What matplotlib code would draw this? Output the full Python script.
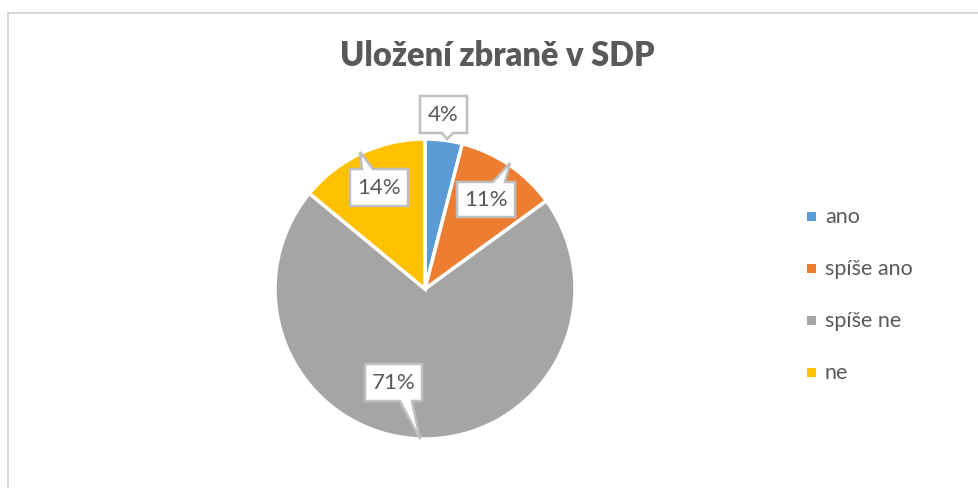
import matplotlib
matplotlib.use("Agg")
import matplotlib.pyplot as plt
from matplotlib.patches import Polygon
from matplotlib.lines import Line2D
import numpy as np

plt.rcParams['font.family'] = ['Lato', 'DejaVu Sans']

title = "Uložení zbraně v SDP"
categories = ["ano", "spíše ano", "spíše ne", "ne"]
values = [4, 11, 71, 14]
labels = ["4%", "11%", "71%", "14%"]
colors = ["#5b9bd5", "#ed7d31", "#a5a5a5", "#ffc000"]

W, H = 979, 489
fig = plt.figure(figsize=(W / 100, H / 100), dpi=100)
ax = fig.add_axes([0, 0, 1, 1])
ax.set_xlim(0, W)
ax.set_ylim(0, H)
ax.set_aspect('equal')
ax.axis('off')

def py(y):
    return H - y

# frame border (top and left visible)
ax.add_line(Line2D([8, W], [py(14), py(14)], color="#d9d9d9", lw=1.5))
ax.add_line(Line2D([8, 8], [py(14), 0], color="#d9d9d9", lw=1.5))

cx, cy, r = 425, py(290), 150
wedges, _ = ax.pie(values, colors=colors, startangle=90, counterclock=False,
                   center=(cx, cy), radius=r, frame=True,
                   wedgeprops=dict(edgecolor="white", linewidth=2.5))
ax.set_xlim(0, W)
ax.set_ylim(0, H)
ax.axis('off')

ax.text(497, py(56), title, ha="center", va="center",
        fontsize=23.5, fontweight="heavy", color="#595959")

# callout boxes: (x0, y0, x1, y1) in px, tail base (xa, xb, side), tip
callouts = [
    ((420, 97, 467, 134), (442, 453, "bottom"), (447, 140)),
    ((457, 183, 515, 218), (493, 505, "top"), (510, 164)),
    ((365, 365, 422, 402), (400, 412, "bottom"), (420, 440)),
    ((350, 170, 408, 207), (362, 373, "top"), (360, 153)),
]
for lab, (box, tail, tip) in zip(labels, callouts):
    x0, y0, x1, y1 = box
    xa, xb, side = tail
    if side == "bottom":
        pts = [(x0, y0), (x1, y0), (x1, y1), (xb, y1), tip, (xa, y1), (x0, y1)]
    else:
        pts = [(x0, y0), (xa, y0), tip, (xb, y0), (x1, y0), (x1, y1), (x0, y1)]
    poly = Polygon([(px, py(pyy)) for px, pyy in pts], closed=True,
                   facecolor="white", edgecolor="#bfbfbf", linewidth=1.8,
                   zorder=5, joinstyle="miter")
    ax.add_patch(poly)
    ax.text((x0 + x1) / 2, py((y0 + y1) / 2), lab, ha="center", va="center",
            fontsize=16, color="#595959", zorder=6)

# legend
leg_y = [217, 269, 321, 373]
for cat, col, ly in zip(categories, colors, leg_y):
    ax.add_patch(plt.Rectangle((807, py(ly) - 4.5), 9, 9, facecolor=col,
                               edgecolor="none"))
    ax.text(825, py(ly), cat, ha="left", va="center", fontsize=15.5,
            color="#595959")

fig.savefig("out.png", dpi=100)
